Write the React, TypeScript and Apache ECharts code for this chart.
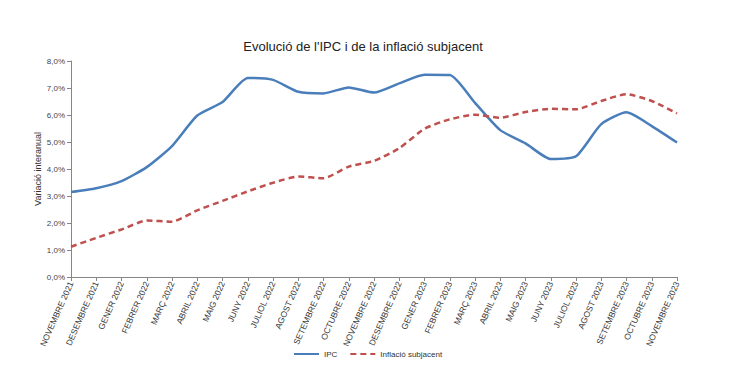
import React, { useEffect, useRef } from "react";
import * as echarts from "echarts";

const categories = [
  "NOVEMBRE 2021", "DESEMBRE 2021", "GENER 2022", "FEBRER 2022", "MARÇ 2022", "ABRIL 2022",
  "MAIG 2022", "JUNY 2022", "JULIOL 2022", "AGOST 2022", "SETEMBRE 2022", "OCTUBRE 2022",
  "NOVEMBRE 2022", "DESEMBRE 2022", "GENER 2023", "FEBRER 2023", "MARÇ 2023", "ABRIL 2023",
  "MAIG 2023", "JUNY 2023", "JULIOL 2023", "AGOST 2023", "SETEMBRE 2023", "OCTUBRE 2023",
  "NOVEMBRE 2023",
];

const ipc = [
  3.15, 3.29, 3.55, 4.07, 4.85, 5.98, 6.48, 7.37, 7.30, 6.86, 6.80, 7.02,
  6.83, 7.17, 7.49, 7.48, 6.45, 5.44, 4.95, 4.37, 4.47, 5.66, 6.10, 5.59, 4.98,
];

const core = [
  1.12, 1.45, 1.76, 2.09, 2.05, 2.47, 2.82, 3.17, 3.49, 3.72, 3.66, 4.09,
  4.30, 4.77, 5.49, 5.84, 6.01, 5.90, 6.11, 6.23, 6.21, 6.52, 6.77, 6.52, 6.06,
];

const FONT = "'Liberation Sans', Arial, sans-serif";

export default function App() {
  const ref = useRef<HTMLDivElement>(null);
  useEffect(() => {
    if (!ref.current) return;
    const chart = echarts.init(ref.current, undefined, { renderer: "svg" });
    chart.setOption({
      animation: false,
      backgroundColor: "#ffffff",
      title: {
        text: "Evolució de l'IPC i de la inflació subjacent",
        left: 358,
        textAlign: "center",
        top: 35,
        textStyle: { fontFamily: FONT, fontSize: 13, fontWeight: "normal", color: "#222" },
      },
      grid: { left: 71, right: 63, top: 61, bottom: 101, containLabel: false },
      legend: {
        bottom: 15,
        left: 288,
        itemWidth: 25,
        itemHeight: 8,
        itemGap: 12,
        itemStyle: { opacity: 0 },
        textStyle: { fontFamily: FONT, fontSize: 8, color: "#333" },
        data: ["IPC", "Inflació subjacent"],
      },
      xAxis: {
        type: "category",
        data: categories,
        boundaryGap: false,
        axisLine: { lineStyle: { color: "#868686", width: 1 } },
        axisTick: { show: true, alignWithLabel: true, length: 4, lineStyle: { color: "#868686" } },
        axisLabel: {
          interval: 0,
          rotate: 66,
          margin: 5,
          fontFamily: FONT,
          fontSize: 8.5,
          color: "#333",
        },
      },
      yAxis: {
        type: "value",
        min: 0,
        max: 8,
        interval: 1,
        name: "Variació interanual",
        nameLocation: "middle",
        nameGap: 29,
        nameMoveOverlap: false,
        nameRotate: 90,
        nameTextStyle: { fontFamily: FONT, fontSize: 9, color: "#333" },
        splitLine: { show: false },
        axisLine: { show: true, lineStyle: { color: "#868686", width: 1 } },
        axisTick: { show: true, inside: false, length: 4, lineStyle: { color: "#868686" } },
        axisLabel: {
          fontFamily: FONT,
          fontSize: 8,
          color: "#444",
          margin: 6,
          formatter: (v: number) => v.toFixed(1).replace(".", ",") + "%",
        },
      },
      series: [
        {
          name: "IPC",
          type: "line",
          data: ipc,
          symbol: "none",
          smooth: 0.2,
          color: "#4a7ebb",
          lineStyle: { color: "#4a7ebb", width: 2.5 },
        },
        {
          name: "Inflació subjacent",
          type: "line",
          data: core,
          symbol: "none",
          smooth: 0.2,
          color: "#c0504d",
          lineStyle: { color: "#c0504d", width: 2.5, type: [6, 4] },
        },
      ],
    });
    return () => chart.dispose();
  }, []);
  return <div ref={ref} style={{ width: 740, height: 378, position: "absolute", left: 0, top: 0 }} />;
}
